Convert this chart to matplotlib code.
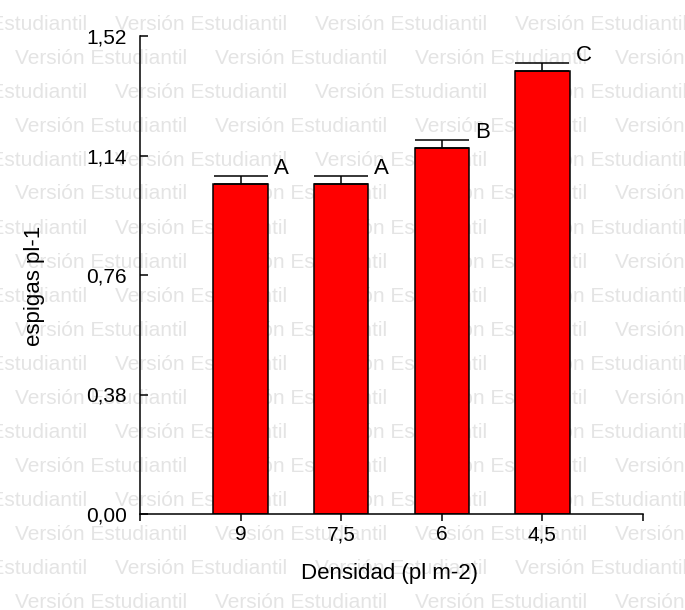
import matplotlib
matplotlib.use("Agg")
import matplotlib.pyplot as plt
import numpy as np

# Data
densidades = ["9", "7,5", "6", "4,5"]
espigas = [1.05, 1.05, 1.165, 1.41]
error = [0.025, 0.025, 0.025, 0.025]
letras = ["A", "A", "B", "C"]
yticks = [0.0, 0.38, 0.76, 1.14, 1.52]
ytick_labels = ["0,00", "0,38", "0,76", "1,14", "1,52"]

plt.rcParams["font.family"] = ["Liberation Sans", "DejaVu Sans"]

W, H = 685, 610
fig = plt.figure(figsize=(W / 100, H / 100), dpi=100)
ax = fig.add_axes([140 / W, 1 - 514 / H, 503 / W, 478 / H])
ax.patch.set_visible(False)

# Background watermark rows
marca = "Versión Estudiantil"
for k in range(18):
    y = 29.5 + 34 * k
    x0 = -85 if k % 2 == 0 else 15
    x = x0
    while x < W:
        fig.text(x / W, 1 - y / H, marca, fontsize=15, color="#e4e4e4",
                 ha="left", va="baseline", zorder=-5)
        x += 200

pos = np.arange(len(densidades))
ancho = 0.54
ax.bar(pos, espigas, width=ancho, color="#ff0000", edgecolor="black",
       linewidth=1.1, zorder=2)
ax.errorbar(pos, espigas, yerr=[np.zeros(len(error)), error], fmt="none",
            ecolor="black", elinewidth=1.1, capsize=19.5, capthick=1.1,
            zorder=3)

for xi, yi, ei, le in zip(pos, espigas, error, letras):
    ax.text(xi + ancho / 2 + 0.06, yi + ei + 0.005, le, fontsize=16,
            ha="left", va="baseline")

ax.set_xlim(-1, 4)
ax.set_ylim(0, 1.52)
ax.set_xticks(pos)
ax.set_xticklabels(densidades)
ax.set_xticks([-1, 4], minor=True)
ax.set_yticks(yticks)
ax.set_yticklabels(ytick_labels)

for s in ["top", "right"]:
    ax.spines[s].set_visible(False)
for s in ["left", "bottom"]:
    ax.spines[s].set_linewidth(1.1)

ax.tick_params(axis="x", which="both", direction="out", length=5, width=1.1,
               labelsize=15, pad=3)
ax.tick_params(axis="y", direction="in", length=5.5, width=1.1,
               labelsize=15, pad=9.4)

ax.set_xlabel("Densidad (pl m-2)", fontsize=16)
ax.set_ylabel("espigas pl-1", fontsize=16, va="center")
ax.xaxis.set_label_coords(0.497, -0.1025)
ax.yaxis.set_label_coords(-0.209, 0.477)

fig.savefig("out.png", dpi=100)
